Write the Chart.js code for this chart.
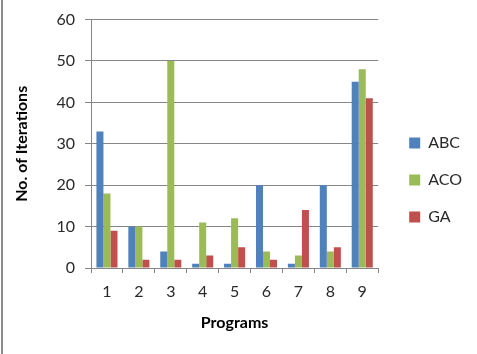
<!DOCTYPE html>
<html>
<head>
<meta charset="utf-8">
<script src="https://cdn.jsdelivr.net/npm/chart.js@4"></script>
<style>
  html, body { margin: 0; padding: 0; background: #ffffff; }
  #wrap { position: relative; width: 477px; height: 354px; }
  #edge { position: absolute; left: 1px; top: 0; width: 2px; height: 354px; background: #8c8c8c; }
</style>
</head>
<body>
<div id="wrap">
  <canvas id="chart"></canvas>
  <div id="edge"></div>
</div>
<script>
// === Data ===
const programs = ['1', '2', '3', '4', '5', '6', '7', '8', '9'];
const abcValues = [33, 10, 4, 1, 1, 20, 1, 20, 45];
const acoValues = [18, 10, 50, 11, 12, 4, 3, 4, 48];
const gaValues = [9, 2, 2, 3, 5, 2, 14, 5, 41];
const yTicks = [0, 10, 20, 30, 40, 50, 60];

const FONT = 'Lato, "Open Sans", sans-serif';
const GRID = '#868686';

// nudge the legend a bit further from the plot
const shiftLegendPlugin = {
    id: 'shiftLegendPlugin',
    beforeDraw(chart) {
        const legend = chart.legend;
        if (legend && !legend._shifted) {
            const origDraw = legend.draw.bind(legend);
            legend.draw = function () {
                const c = this.ctx;
                c.save();
                c.translate(10, 0);
                origDraw();
                c.restore();
            };
            legend._shifted = true;
        }
    }
};

const ctx = document.getElementById('chart').getContext('2d');

const chart = new Chart(ctx, {
    type: 'bar',
    data: {
        labels: programs,
        datasets: [
            { label: 'ABC', data: abcValues, backgroundColor: '#4f81bd' },
            { label: 'ACO', data: acoValues, backgroundColor: '#9bbb59' },
            { label: 'GA', data: gaValues, backgroundColor: '#c0504d' }
        ]
    },
    options: {
        responsive: true,
        maintainAspectRatio: false,
        animation: false,
        categoryPercentage: 0.66,
        barPercentage: 1.0,
        layout: { padding: { left: 12, top: 12, right: 15, bottom: 6 } },
        scales: {
            x: {
                grid: {
                    offset: true,
                    drawOnChartArea: false,
                    drawTicks: true,
                    tickLength: 5,
                    color: GRID
                },
                border: { color: GRID },
                ticks: { color: '#2a2a2a', padding: 9, font: { family: FONT, size: 16 } },
                title: {
                    display: true,
                    text: 'Programs',
                    color: '#000000',
                    font: { family: FONT, size: 16, weight: 'bold' },
                    padding: { top: 6, bottom: 16 }
                },
                afterFit: scale => { scale.height = 80; }
            },
            y: {
                min: 0,
                max: 60,
                afterBuildTicks: scale => { scale.ticks = yTicks.map(v => ({ value: v })); },
                grid: { color: GRID, tickLength: 6 },
                border: { color: GRID },
                ticks: { color: '#2a2a2a', padding: 10, font: { family: FONT, size: 16 } },
                title: {
                    display: true,
                    text: 'No. of Iterations',
                    color: '#000000',
                    font: { family: FONT, size: 16, weight: 'bold' },
                    padding: { top: 0, bottom: 8 }
                },
                afterFit: scale => { scale.width = 79; }
            }
        },
        plugins: {
            legend: {
                position: 'right',
                labels: {
                    boxWidth: 11,
                    boxHeight: 11,
                    padding: 21,
                    color: '#2a2a2a',
                    font: { family: FONT, size: 16 }
                }
            },
            tooltip: { enabled: false }
        }
    },
    plugins: [shiftLegendPlugin]
});
</script>
</body>
</html>
